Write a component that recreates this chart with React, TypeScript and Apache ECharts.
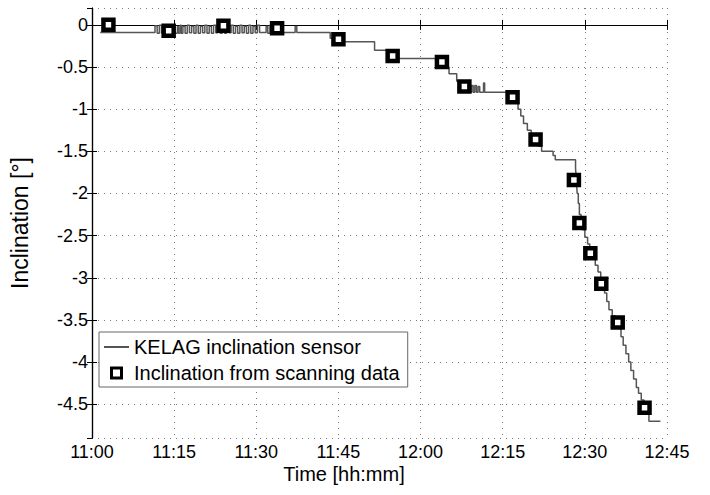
import React, { useEffect, useRef } from "react";
import * as echarts from "echarts";

// Time in minutes after 11:00
const xTickMinutes = [0, 15, 30, 45, 60, 75, 90, 105];

const sensorMinutes = [
  1.5, 11.5, 11.9, 12.3, 12.7, 13.1, 13.5, 13.9, 14.3, 14.7, 15.1, 15.6, 15.8, 16.1, 16.3,
  16.6, 17.0, 17.4, 17.8, 18.2, 18.6, 19.0, 19.4, 19.8, 20.2, 20.6, 21.0, 21.4, 21.8, 22.2,
  22.6, 23.0, 23.4, 23.8, 24.2, 24.6, 25.0, 25.4, 25.8, 26.2, 26.6, 27.0, 27.4, 27.8, 28.2,
  28.6, 29.0, 29.4, 29.8, 30.2, 30.6, 31.8, 32.1, 32.5, 32.9, 33.3, 33.7, 34.1, 34.5, 37.1,
  37.4, 43.5, 44.2, 51.6, 55.5, 64.5, 65.2, 66.6, 67.4, 69.0, 69.3, 69.6, 69.9, 70.2, 70.5,
  70.8, 71.5, 71.7, 77.3, 77.8, 78.3, 78.8, 79.5, 80.2, 80.8, 81.5, 82.1, 84.2, 84.6, 88.3,
  88.4, 88.5, 88.6, 88.8, 89.0, 89.3, 89.6, 90.0, 90.5, 90.9, 91.4, 91.9, 92.4, 92.9, 93.2,
  93.6, 94.0, 94.4, 95.0, 95.6, 96.1, 96.6, 97.0, 97.5, 98.0, 98.4, 98.9, 99.4, 99.8, 100.3,
  100.8, 101.3, 101.7, 103.8,
];
const sensorValues = [
  -0.09, -0.01, -0.1, -0.005, -0.1, -0.015, -0.095, -0.005, -0.1, -0.015, -0.1, -0.02, -0.1, -0.005, -0.1,
  -0.015, -0.1, -0.005, -0.095, -0.015, -0.1, -0.005, -0.1, -0.015, -0.095, -0.005, -0.1, -0.015, -0.1, -0.005,
  -0.095, -0.015, -0.1, -0.005, -0.1, -0.015, -0.095, -0.005, -0.1, -0.015, -0.1, -0.005, -0.095, -0.015, -0.1,
  -0.005, -0.1, -0.015, -0.095, -0.005, -0.09, -0.015, -0.1, -0.005, -0.1, -0.015, -0.095, -0.005, -0.09, -0.02,
  -0.09, -0.16, -0.2, -0.3, -0.4, -0.5, -0.58, -0.67, -0.72, -0.8, -0.72, -0.8, -0.72, -0.8, -0.73,
  -0.8, -0.69, -0.8, -0.9, -1.0, -1.08, -1.17, -1.25, -1.3, -1.38, -1.44, -1.5, -1.55, -1.6, -1.7,
  -1.8, -1.9, -2.0, -2.12, -2.25, -2.35, -2.43, -2.52, -2.6, -2.7, -2.78, -2.85, -2.93, -3.02, -3.1,
  -3.18, -3.28, -3.38, -3.45, -3.52, -3.6, -3.7, -3.8, -3.9, -4.0, -4.1, -4.2, -4.3, -4.37, -4.45,
  -4.53, -4.6, -4.7, -4.7,
];

const scanMinutes = [3.0, 14.0, 24.0, 33.8, 45.0, 54.9, 63.9, 68.0, 76.8, 81.0, 88.0, 89.0, 91.0, 93.0, 96.0, 100.9];
const scanValues = [0.0, -0.07, -0.01, -0.04, -0.17, -0.37, -0.44, -0.73, -0.86, -1.36, -1.84, -2.35, -2.71, -3.07, -3.53, -4.54];

const sensorName = "KELAG inclination sensor";
const scanName = "Inclination from scanning data";

const FONT = "'Liberation Sans', Arial, Helvetica, sans-serif";

function fmtTime(v: number): string {
  const h = 11 + Math.floor(v / 60);
  const m = Math.round(v % 60);
  return `${h}:${m < 10 ? "0" + m : m}`;
}

export default function App() {
  const ref = useRef<HTMLDivElement>(null);
  useEffect(() => {
    if (!ref.current) return;
    const chart = echarts.init(ref.current, undefined, { renderer: "svg" });
    const gridLine = { show: true, lineStyle: { color: "#777", width: 1, type: [1, 5] as any } };
    const tick = { show: true, inside: true, length: 5, lineStyle: { color: "#000", width: 1 } };
    const axisLine = { show: true, lineStyle: { color: "#000", width: 1.2 } };
    chart.setOption({
      animation: false,
      backgroundColor: "#fff",
      textStyle: { fontFamily: FONT },
      grid: { left: 85, right: 43, top: 8, bottom: 57, containLabel: false },
      xAxis: [
        {
          type: "value",
          min: xTickMinutes[0],
          max: xTickMinutes[xTickMinutes.length - 1],
          interval: 15,
          axisLine,
          axisTick: tick,
          splitLine: gridLine,
          axisLabel: {
            color: "#000",
            fontSize: 18,
            fontFamily: FONT,
            margin: 5,
            formatter: (v: number) => fmtTime(v),
          },
        },
        {
          type: "value",
          position: "top",
          min: xTickMinutes[0],
          max: xTickMinutes[xTickMinutes.length - 1],
          interval: 15,
          axisLine,
          axisTick: tick,
          splitLine: { show: false },
          axisLabel: { show: false },
        },
      ],
      yAxis: [
        {
          type: "value",
          min: -4.9,
          max: 0.2,
          splitNumber: 10,
          axisLine,
          axisTick: tick,
          splitLine: gridLine,
          axisLabel: {
            color: "#000",
            fontSize: 18,
            fontFamily: FONT,
            margin: 4,
            showMinLabel: false,
            showMaxLabel: false,
          },
          name: "Inclination [°]",
          nameLocation: "middle",
          nameGap: 61,
          nameTextStyle: { color: "#000", fontSize: 23, fontFamily: FONT },
        },
        {
          type: "value",
          position: "right",
          min: -4.9,
          max: 0.2,
          splitNumber: 10,
          axisLine,
          axisTick: tick,
          splitLine: { show: false },
          axisLabel: { show: false },
        },
      ],
      legend: {
        orient: "vertical",
        left: 99,
        top: 332,
        itemWidth: 25,
        itemHeight: 10,
        itemGap: 6,
        padding: [5, 8, 4, 4],
        borderColor: "#666",
        borderWidth: 1,
        backgroundColor: "#fff",
        textStyle: { color: "#000", fontSize: 20, fontFamily: FONT },
        data: [
          {
            name: sensorName,
            itemStyle: { color: "rgba(0,0,0,0)", borderWidth: 0, opacity: 0 },
          },
          {
            name: scanName,
            icon: "path://M0,0H10V10H0Z",
            itemStyle: { color: "#fff", borderColor: "#000", borderWidth: 3 },
          },
        ],
      },
      graphic: [
        {
          type: "text",
          x: 344,
          y: 474,
          style: {
            text: "Time [hh:mm]",
            fill: "#000",
            font: `20px ${FONT}`,
            textAlign: "center",
            textVerticalAlign: "middle",
          },
        },
      ],
      series: [
        {
          name: sensorName,
          type: "line",
          step: "end",
          showSymbol: false,
          symbol: "none",
          data: sensorMinutes.map((t, i) => [t, sensorValues[i]]),
          lineStyle: { color: "#555", width: 1.5 },
          itemStyle: { color: "#555" },
          z: 2,
        },
        {
          name: scanName,
          type: "scatter",
          symbol: "rect",
          symbolSize: 10,
          data: scanMinutes.map((t, i) => [t, scanValues[i]]),
          itemStyle: { color: "#fff", borderColor: "#000", borderWidth: 4.5, opacity: 1 },
          z: 3,
        },
      ],
    });
    return () => chart.dispose();
  }, []);
  return (
    <div
      ref={ref}
      style={{ position: "absolute", left: 0, top: 0, width: 710, height: 495 }}
    />
  );
}
